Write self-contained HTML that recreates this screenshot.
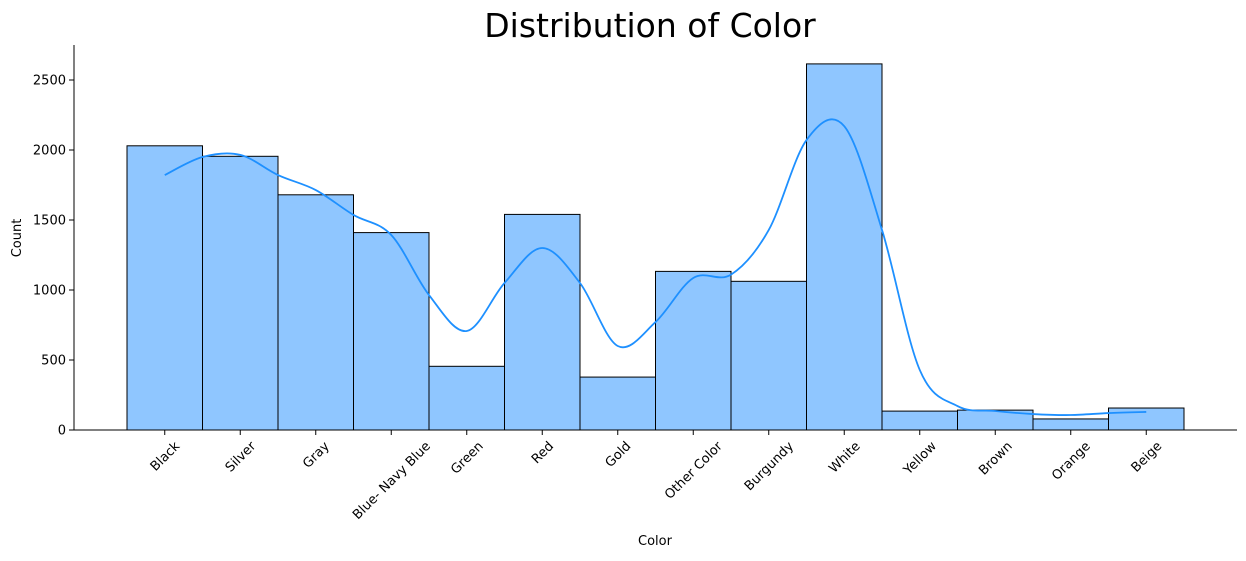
<!DOCTYPE html>
<html><head><meta charset="utf-8"><style>
body{margin:0;background:#fff;font-family:"DejaVu Sans",sans-serif;}
svg text{font-family:"DejaVu Sans",sans-serif;}
</style></head><body>
<svg id="chart" width="1246" height="557">
<text x="650" y="37" text-anchor="middle" font-size="33">Distribution of Color</text>
<g id="bars"></g><g id="kde"></g><g id="axes"></g>
<text x="655" y="545" text-anchor="middle" font-size="13">Color</text>
<text transform="translate(21,238) rotate(-90)" text-anchor="middle" font-size="13">Count</text>
</svg>
<script>
const categories=["Black","Silver","Gray","Blue- Navy Blue","Green","Red","Gold","Other Color","Burgundy","White","Yellow","Brown","Orange","Beige"];
const counts=[2030,1955,1680,1410,455,1540,378,1133,1062,2615,135,142,79,157];
const kdeValues=[1821,1950,1965,1821,1714,1536,1393,964,707,1050,1300,1050,600,771,1086,1110,1429,2071,2170,1429,429,171,136,114,107,121,129];
const yTicks=[0,500,1000,1500,2000,2500];
const NS="http://www.w3.org/2000/svg";
const x0=127,bw=(1184-127)/14,yBase=430,ppu=0.14;
const xScale=i=>x0+i*bw;
const yScale=v=>yBase-v*ppu;
function mk(tag,attrs,parent){const e=document.createElementNS(NS,tag);for(const k in attrs)e.setAttribute(k,attrs[k]);parent.appendChild(e);return e;}
const bars=document.getElementById('bars'),axes=document.getElementById('axes'),kde=document.getElementById('kde');
counts.forEach((c,i)=>{
 const r=mk('rect',{x:xScale(i),y:yScale(c),width:bw,height:c*ppu,fill:'#8fc6ff',stroke:'#000','stroke-width':1},bars);
 
 
});
const pts=kdeValues.map((v,j)=>[xScale(0.5+j*0.5),yScale(v)]);
let d='M'+pts[0][0]+','+pts[0][1];
for(let i=0;i<pts.length-1;i++){
 const p0=pts[Math.max(0,i-1)],p1=pts[i],p2=pts[i+1],p3=pts[Math.min(pts.length-1,i+2)];
 const c1=[p1[0]+(p2[0]-p0[0])/6,p1[1]+(p2[1]-p0[1])/6],c2=[p2[0]-(p3[0]-p1[0])/6,p2[1]-(p3[1]-p1[1])/6];
 d+=`C${c1[0]},${c1[1]} ${c2[0]},${c2[1]} ${p2[0]},${p2[1]}`;
}
const kp=mk('path',{d:d,fill:'none',stroke:'#1e90ff','stroke-width':1.8},kde);


const ys=mk('line',{x1:74,y1:45,x2:74,y2:430,stroke:'#000','stroke-width':1},axes);


const xs=mk('line',{x1:74,y1:430,x2:1237,y2:430,stroke:'#000','stroke-width':1},axes);


yTicks.forEach(t=>{
 const y=yScale(t);
 mk('line',{x1:69,y1:y,x2:74,y2:y,stroke:'#000'},axes);
 const tx=mk('text',{x:66,y:y+4.5,'text-anchor':'end','font-size':13},axes);
 tx.textContent=t;
 
 
});
categories.forEach((c,i)=>{
 const x=xScale(i+0.5);
 mk('line',{x1:x,y1:430,x2:x,y2:435,stroke:'#000'},axes);
 const tx=mk('text',{'text-anchor':'middle','font-size':13},axes);
 tx.textContent=c;
 
 
 const w=tx.getComputedTextLength();
 const cy=439+(w+13)*0.7071/2;
 tx.setAttribute('transform',`translate(${x},${cy}) rotate(-45)`);
 tx.setAttribute('y',4.5);
});
</script>
</body></html>
